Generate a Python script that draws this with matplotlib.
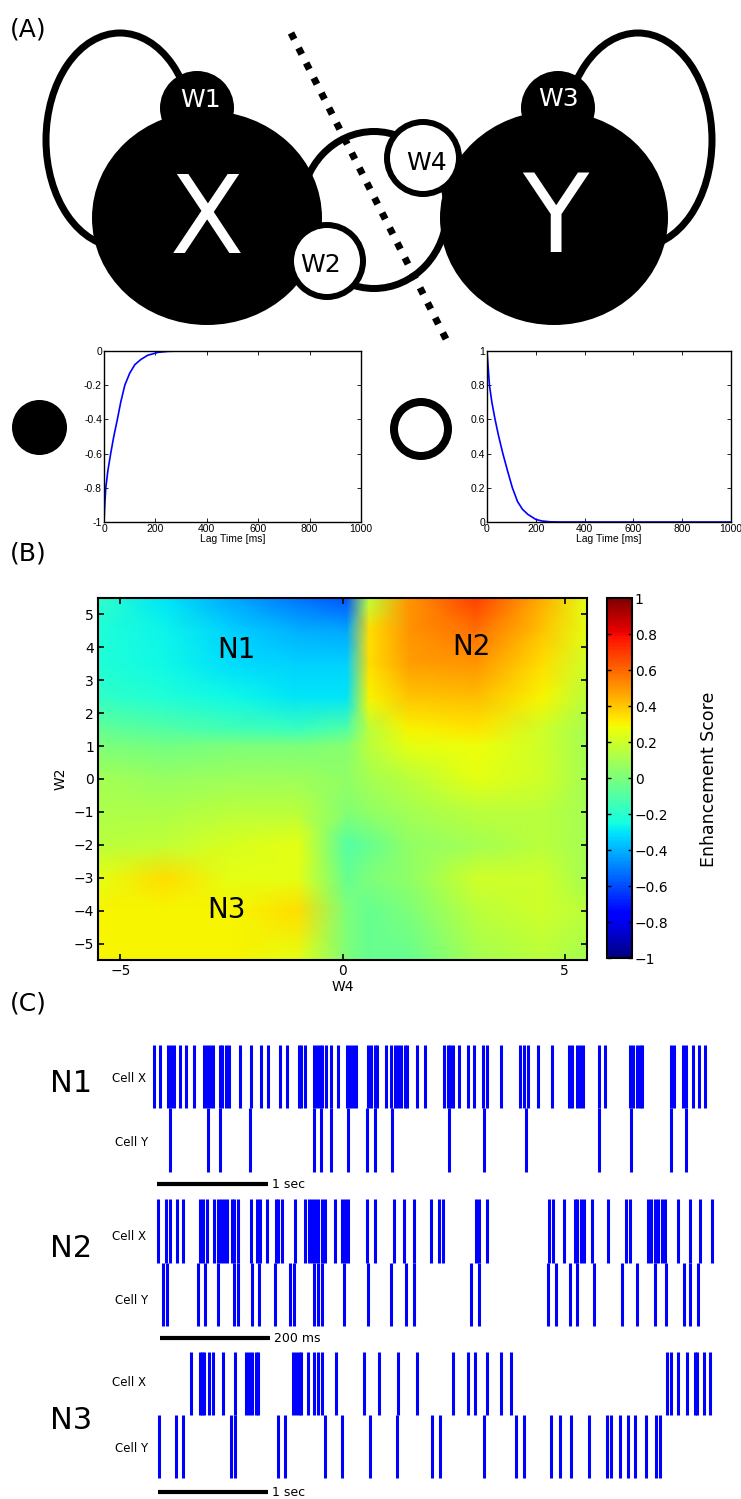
import matplotlib.pyplot as plt
import numpy as np
from matplotlib.patches import Ellipse, Circle

W, H = 741, 1499

# kernels of panel A
lag_inh = [0, 3, 7, 15, 26, 38, 52, 65, 81, 100, 120, 143, 170, 210, 250, 300, 1000]
inhib_kernel = [-1, -0.9, -0.8, -0.7, -0.6, -0.5, -0.4, -0.3, -0.2, -0.13, -0.08, -0.05,
                -0.025, -0.008, -0.002, 0, 0]
lag_exc = [0, 5, 10, 20, 33, 48, 65, 84, 104, 125, 145, 167, 200, 225, 260, 300, 1000]
excit_kernel = [1, 0.9, 0.8, 0.7, 0.6, 0.5, 0.4, 0.3, 0.2, 0.12, 0.075, 0.045, 0.015, 0.006,
                0.001, 0, 0]

# enhancement score map (panel B), rows top -> bottom
w4_pts = [-5.5, -4, -2.5, -1, 0.1, 0.6, 1.5, 3, 4.5, 5.5]
w2_pts = [5.5, 4.5, 3.5, 2.5, 1.5, 1, 0, -1, -2, -3, -4, -5.5]
score = [
    [-0.18, -0.3, -0.42, -0.52, -0.58, 0.15, 0.5, 0.68, 0.45, 0.25],
    [-0.22, -0.27, -0.34, -0.4, -0.42, 0.35, 0.5, 0.58, 0.4, 0.25],
    [-0.22, -0.26, -0.32, -0.34, -0.34, 0.35, 0.48, 0.5, 0.35, 0.2],
    [-0.18, -0.22, -0.26, -0.3, -0.3, 0.3, 0.4, 0.42, 0.3, 0.15],
    [-0.06, -0.1, -0.14, -0.16, -0.1, 0.15, 0.3, 0.33, 0.2, 0.1],
    [0.0, -0.02, 0.0, 0.0, 0.03, 0.15, 0.25, 0.28, 0.2, 0.1],
    [0.1, 0.07, 0.08, 0.08, 0.05, 0.1, 0.15, 0.25, 0.2, 0.1],
    [0.12, 0.12, 0.15, 0.15, 0.02, 0.05, 0.1, 0.15, 0.15, 0.1],
    [0.15, 0.17, 0.22, 0.25, -0.1, -0.05, 0.05, 0.1, 0.15, 0.1],
    [0.25, 0.35, 0.25, 0.25, -0.05, 0.0, 0.05, 0.2, 0.2, 0.1],
    [0.3, 0.3, 0.3, 0.35, 0.0, -0.05, 0.0, 0.15, 0.2, 0.15],
    [0.3, 0.3, 0.3, 0.25, 0.0, -0.05, -0.05, 0.1, 0.15, 0.1],
]
cbar_ticks = [-1, -0.8, -0.6, -0.4, -0.2, 0, 0.2, 0.4, 0.6, 0.8, 1]
cbar_labels = ['\u22121', '\u22120.8', '\u22120.6', '\u22120.4', '\u22120.2', '0',
               '0.2', '0.4', '0.6', '0.8', '1']

# spike trains (panel C); N1, N3 in seconds, N2 in ms
n1_x = [-0.03, 0.03, 0.10, 0.13, 0.15, 0.21, 0.26, 0.33, 0.42, 0.45, 0.48, 0.50, 0.57, 0.59,
        0.62, 0.65, 0.75, 0.85, 0.94, 1.00, 1.11, 1.17, 1.28, 1.30, 1.33, 1.41, 1.44, 1.47,
        1.49, 1.52, 1.57, 1.63, 1.71, 1.74, 1.77, 1.79, 1.90, 1.93, 1.96, 1.98, 2.06, 2.11,
        2.14, 2.17, 2.20, 2.23, 2.25, 2.34, 2.41, 2.59, 2.62, 2.64, 2.67, 2.72, 2.80, 2.86,
        2.94, 2.97, 3.10, 3.27, 3.31, 3.34, 3.43, 3.56, 3.71, 3.74, 3.78, 3.81, 3.84, 3.98,
        4.04, 4.26, 4.29, 4.32, 4.35, 4.37, 4.63, 4.66, 4.74, 4.77, 4.83, 4.88, 4.94]
n1_y = [0.12, 0.46, 0.57, 0.84, 1.41, 1.48, 1.57, 1.72, 1.89, 1.96, 2.12, 2.63, 2.95, 3.32,
        3.98, 4.27, 4.63, 4.77]
n2_x = [-3, 11, 18, 31, 42, 73, 79, 85, 98, 105, 111, 117, 122, 130, 135, 141, 165, 176, 182,
        194, 210, 215, 221, 245, 264, 270, 276, 282, 288, 294, 300, 319, 331, 336, 342, 377,
        390, 426, 444, 461, 493, 508, 515, 575, 580, 595, 707, 714, 735, 754, 759, 765, 771,
        785, 815, 848, 855, 887, 893, 900, 906, 913, 919, 942, 964, 981, 1004]
n2_y = [5, 13, 69, 82, 105, 135, 141, 167, 180, 209, 237, 244, 280, 288, 294, 335, 378, 420,
        447, 462, 565, 580, 705, 720, 745, 759, 789, 840, 868, 900, 920, 953, 964, 979]
n3_x = [0.30, 0.38, 0.40, 0.42, 0.46, 0.50, 0.59, 0.70, 0.80, 0.83, 0.85, 0.89, 0.91, 1.23,
        1.25, 1.28, 1.30, 1.36, 1.42, 1.45, 1.49, 1.62, 1.87, 2.01, 2.18, 2.35, 2.68, 2.82,
        2.88, 2.99, 3.12, 3.21, 4.63, 4.66, 4.73, 4.81, 4.88, 4.90, 4.96, 5.02]
n3_y = [0.01, 0.16, 0.23, 0.66, 0.70, 1.09, 1.15, 1.52, 1.67, 1.93, 2.17, 2.49, 2.56, 2.96,
        3.25, 3.33, 3.57, 3.65, 3.75, 3.92, 4.08, 4.12, 4.20, 4.27, 4.34, 4.44, 4.53, 4.56]

plt.rcParams['font.family'] = 'DejaVu Sans'
fig = plt.figure(figsize=(W / 100, H / 100), dpi=100)


def px_axes(l, t, r, b):
    return fig.add_axes([l / W, 1 - b / H, (r - l) / W, (b - t) / H])


def lw(px):
    return px * 0.72


# overlay in pixel coordinates for the drawing and the labels
canvas = fig.add_axes([0, 0, 1, 1])
canvas.set_xlim(0, W)
canvas.set_ylim(H, 0)
canvas.axis('off')
canvas.set_zorder(10)

# ---- (A) network diagram
canvas.add_patch(Ellipse((120, 140), 148, 214, fill=False, ec='k', lw=lw(7), zorder=1))
canvas.add_patch(Ellipse((638, 140), 148, 214, fill=False, ec='k', lw=lw(7), zorder=1))
canvas.add_patch(Ellipse((374, 210), 146, 157, fill=False, ec='k', lw=lw(7), zorder=1))
canvas.add_patch(Ellipse((207, 218), 230, 214, fc='k', ec='none', zorder=2))
canvas.add_patch(Ellipse((554, 218), 228, 214, fc='k', ec='none', zorder=2))
canvas.add_patch(Circle((197, 108), 37, fc='k', ec='none', zorder=2))
canvas.add_patch(Circle((558, 108), 37, fc='k', ec='none', zorder=2))
canvas.add_patch(Circle((327, 261), 36, fc='w', ec='k', lw=lw(6), zorder=3))
canvas.add_patch(Circle((423, 158), 36, fc='w', ec='k', lw=lw(6), zorder=3))
canvas.plot([291, 450], [33, 347], color='k', lw=lw(7), linestyle=(0, (1, 1.4)), zorder=4)
canvas.text(207, 253, 'X', color='w', fontsize=78, ha='center', va='baseline', zorder=5)
canvas.text(555, 252, 'Y', color='w', fontsize=78, ha='center', va='baseline', zorder=5)
canvas.text(200, 107, 'W1', color='w', fontsize=18, ha='center', va='baseline', zorder=5)
canvas.text(558, 106, 'W3', color='w', fontsize=18, ha='center', va='baseline', zorder=5)
canvas.text(321, 272, 'W2', color='k', fontsize=18, ha='center', va='baseline', zorder=5)
canvas.text(427, 170, 'W4', color='k', fontsize=18, ha='center', va='baseline', zorder=5)
canvas.add_patch(Circle((39.5, 427.5), 27.5, fc='k', ec='none'))
canvas.add_patch(Circle((421, 429), 27, fill=False, ec='k', lw=lw(8)))

for lab, y in [('(A)', 36), ('(B)', 560), ('(C)', 1010)]:
    canvas.text(10, y, lab, fontsize=18, va='baseline')

# ---- kernel plots
for box, lag, kern, ylim, yticks, ylabels in [
        ((104, 351, 361, 522), lag_inh, inhib_kernel, (-1, 0),
         [-1, -0.8, -0.6, -0.4, -0.2, 0], ['-1', '-0.8', '-0.6', '-0.4', '-0.2', '0']),
        ((487, 351, 731, 522), lag_exc, excit_kernel, (0, 1),
         [0, 0.2, 0.4, 0.6, 0.8, 1], ['0', '0.2', '0.4', '0.6', '0.8', '1'])]:
    ax = px_axes(*box)
    ax.plot(lag, kern, color='#0000ff', lw=1.2)
    ax.set_xlim(0, 1000)
    ax.set_ylim(*ylim)
    ax.set_xticks([0, 200, 400, 600, 800, 1000])
    ax.set_yticks(yticks)
    ax.set_yticklabels(ylabels)
    ax.tick_params(direction='in', top=True, right=True, length=3, width=0.6,
                   labelsize=7.5, pad=1.5)
    for t in ax.get_xticklabels() + ax.get_yticklabels():
        t.set_family('Liberation Sans')
    ax.set_xlabel('Lag Time [ms]', fontsize=7.5, family='Liberation Sans', labelpad=0)
    for s in ax.spines.values():
        s.set_linewidth(1.0)

# ---- (B) heat map
hm = px_axes(98, 598, 587, 960)
mesh = hm.pcolormesh(w4_pts, w2_pts[::-1], np.array(score)[::-1], cmap='jet',
                     vmin=-1, vmax=1, shading='gouraud')
hm.set_xlim(-5.5, 5.5)
hm.set_ylim(-5.5, 5.5)
hm.set_xticks([-5, 0, 5])
hm.set_yticks(range(-5, 6))
hm.tick_params(direction='in', top=True, right=True, length=4, width=1.2, labelsize=10, pad=3)
hm.set_xlabel('W4', fontsize=10, labelpad=1)
hm.set_ylabel('W2', fontsize=10, labelpad=4)
for s in hm.spines.values():
    s.set_linewidth(1.5)

cax = px_axes(607, 598, 632, 958)
cb = fig.colorbar(mesh, cax=cax)
cb.set_ticks(cbar_ticks)
cb.set_ticklabels(cbar_labels)
cax.tick_params(direction='in', left=True, right=True, length=3, width=1, labelsize=10, pad=2)
cb.outline.set_linewidth(1.5)
canvas.text(709, 779, 'Enhancement Score', rotation=90, fontsize=12.5, ha='center', va='center')

for lab, x, y in [('N1', 236, 658), ('N2', 471, 655), ('N3', 226, 918)]:
    canvas.text(x, y, lab, fontsize=20, ha='center', va='baseline')

# ---- (C) rasters
rasters = [
    # top, bottom, x origin, px per unit, cell X, cell Y, X row, Y row, bar y, bar, text
    (1040, 1198, 157, 111, n1_x, n1_y, (1045, 1108), (1108, 1172), 1184, 1, '1 sec'),
    (1195, 1350, 160, 0.55, n2_x, n2_y, (1199, 1263), (1263, 1326), 1338, 200, '200 ms'),
    (1348, 1499, 158, 110, n3_x, n3_y, (1352, 1415), (1415, 1478), 1492, 1, '1 sec'),
]
for top, bot, x0, pps, cx, cy, rx, ry, bar_y, bar, txt in rasters:
    ax = px_axes(140, top, 722, bot)
    ax.set_xlim((140 - x0) / pps, (722 - x0) / pps)
    ax.set_ylim(bot, top)
    ax.axis('off')
    ax.eventplot([cx, cy], lineoffsets=[sum(rx) / 2, sum(ry) / 2],
                 linelengths=[rx[1] - rx[0], ry[1] - ry[0]], linewidths=2.2, colors='#0000ff')
    ax.plot([0, bar], [bar_y, bar_y], color='k', lw=3, solid_capstyle='butt')
    ax.text(bar, bar_y, ' ' + txt, fontsize=9, va='center')

for lab, y, yx, yy in [('N1', 1092, 1078, 1143), ('N2', 1257, 1236, 1301), ('N3', 1429, 1383, 1448)]:
    canvas.text(50, y, lab, fontsize=22, va='baseline')
    canvas.text(146, yx, 'Cell X', fontsize=8.5, ha='right', va='center')
    canvas.text(148, yy, 'Cell Y', fontsize=8.5, ha='right', va='center')

fig.savefig('out.png', dpi=100)
